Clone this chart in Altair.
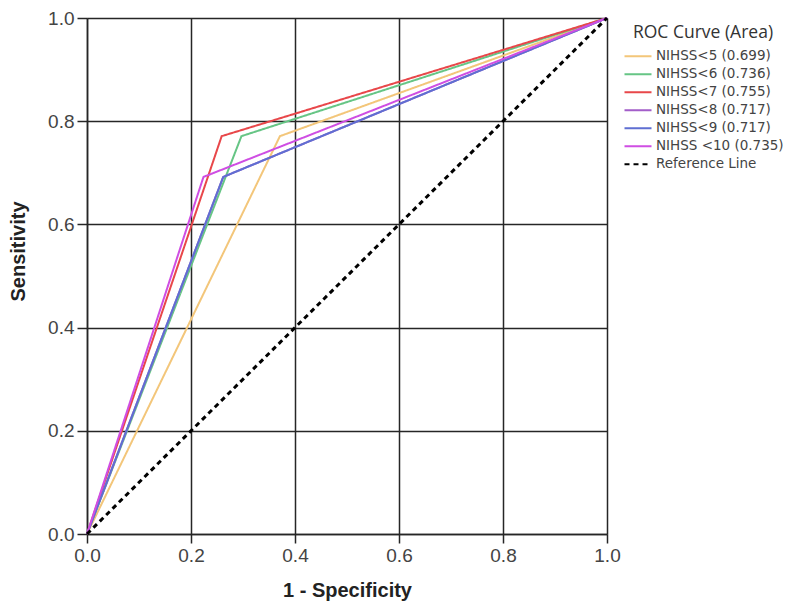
import altair as alt
import pandas as pd

series = ["NIHSS<5 (0.699)", "NIHSS<6 (0.736)", "NIHSS<7 (0.755)",
          "NIHSS<8 (0.717)", "NIHSS<9 (0.717)", "NIHSS <10 (0.735)", "Reference Line"]
knee_x = [0.371, 0.297, 0.259, 0.262, 0.262, 0.224]
knee_y = [0.771, 0.771, 0.771, 0.692, 0.692, 0.692]
colors = ["#f3c67a", "#66c585", "#e8474a", "#a35ec9", "#5f6fd2", "#cf4ee3", "#000000"]
dashes = [[1, 0]] * 6 + [[5, 4]]

rows = []
for i, s in enumerate(series[:6]):
    pts = [(0.0, 0.0), (knee_x[i], knee_y[i]), (1.0, 1.0)]
    for k, (x, y) in enumerate(pts):
        rows.append({"series": s, "x": x, "y": y, "k": k, "w": 2})
rows.append({"series": series[6], "x": 0.0, "y": 0.0, "k": 0, "w": 3})
rows.append({"series": series[6], "x": 1.0, "y": 1.0, "k": 1, "w": 3})
df = pd.DataFrame(rows)

ticks = [0.0, 0.2, 0.4, 0.6, 0.8, 1.0]

base = alt.Chart(df)
lines = base.mark_line(clip=False).encode(
    x=alt.X("x:Q", title="1 - Specificity",
            scale=alt.Scale(domain=[0, 1], nice=False),
            axis=alt.Axis(values=ticks, format=".1f", tickSize=9, labelPadding=3,
                          titleX=260, titleY=56, titleBaseline="middle",
                          titleAlign="center")),
    y=alt.Y("y:Q", title="Sensitivity",
            scale=alt.Scale(domain=[0, 1], nice=False),
            axis=alt.Axis(values=ticks, format=".1f", tickSize=10, labelPadding=3,
                          titleX=-69, titleY=233, titleBaseline="middle",
                          titleAlign="center", titleAngle=270)),
    color=alt.Color("series:N", title="ROC Curve (Area)",
                    scale=alt.Scale(domain=series, range=colors),
                    sort=series),
    strokeDash=alt.StrokeDash("series:N", title="ROC Curve (Area)",
                              scale=alt.Scale(domain=series, range=dashes),
                              sort=series),
    strokeWidth=alt.StrokeWidth("w:Q", scale=None, legend=None),
    detail="series:N",
    order="k:Q",
)

chart = lines.properties(
    width=520, height=516,
    autosize=alt.AutoSizeParams(type="none"),
    padding={"left": 79, "top": 10, "right": 176, "bottom": 73},
).configure_view(stroke=None).configure_axis(
    grid=True, gridColor="#262626", gridWidth=1.5, gridOpacity=1,
    domainColor="#262626", domainWidth=1.5,
    tickColor="#262626", tickWidth=1.5,
    labelFlush=False,
    labelFont="Liberation Sans", labelFontSize=19, labelColor="#444444",
    titleFont="Liberation Sans", titleFontSize=20, titleFontWeight="bold",
    titleColor="#222222",
).configure_legend(
    orient="none", legendX=536, legendY=6,
    titleFont="Open Sans", titleFontSize=17.5, titleFontWeight="normal",
    titleColor="#333333", titlePadding=6, titleAnchor="middle",
    labelFont="DejaVu Sans", labelFontSize=13.5, labelColor="#444444",
    symbolType="stroke", symbolSize=729, symbolStrokeWidth=2.2,
    clipHeight=17.5, rowPadding=0, labelOffset=3, padding=0, offset=0,
)

chart.save("out.html", embed_options={"renderer": "svg", "actions": False})
